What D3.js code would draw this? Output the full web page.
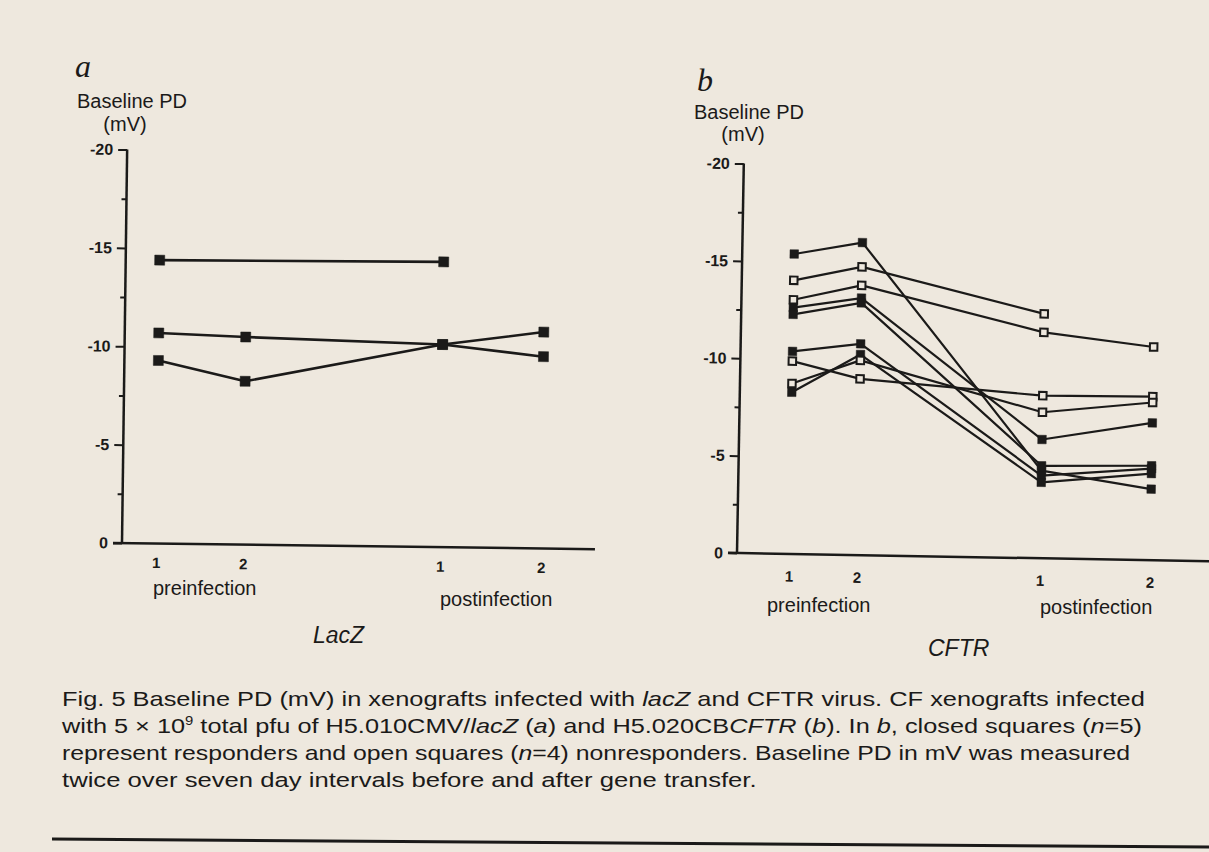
<!DOCTYPE html>
<html><head><meta charset="utf-8">
<script src="https://cdn.jsdelivr.net/npm/d3@7"></script>
<style>html,body{margin:0;padding:0;background:#eee8de;} svg{display:block}</style>
</head><body><svg id="c" width="1209" height="852"></svg>
<script>
// ---------------- DATA ----------------
const timepoints = ["pre1", "pre2", "post1", "post2"];
const xTickLabels = ["1", "2", "1", "2"];
const yTicks = [0, -5, -10, -15, -20];
const yMinorTicks = [-2.5, -7.5, -12.5, -17.5];

// Panel a: lacZ xenografts (closed squares), baseline PD in mV
const lacZ1 = [-14.4, null, -14.5, null];
const lacZ2 = [-10.7, -10.55, -10.3, -9.75];
const lacZ3 = [-9.3, -8.3, -10.3, -11.0];

// Panel b: CFTR xenografts, responders (closed squares)
const cftrR1 = [-15.4, -16.05, -4.5, -3.65];
const cftrR2 = [-12.65, -13.2, -6.1, -7.05];
const cftrR3 = [-12.3, -12.95, -4.75, -4.85];
const cftrR4 = [-10.4, -10.85, -4.25, -4.7];
const cftrR5 = [-8.3, -10.3, -3.9, -4.45];
// nonresponders (open squares)
const cftrN1 = [-14.05, -14.8, -12.55, null];
const cftrN2 = [-13.05, -13.85, -11.6, -10.95];
const cftrN3 = [-9.9, -9.05, -8.35, -8.4];
const cftrN4 = [-8.75, -10.0, -7.5, -8.1];

// ---------------- DRAW ----------------
const INK = "#1b1a19", BG = "#eee8de";
const SANS = "'Liberation Sans', Arial, Helvetica, sans-serif";
const SERIF = "'Liberation Serif', 'Times New Roman', serif";
const svg = d3.select("#c");
svg.append("rect").attr("width", 1209).attr("height", 852).attr("fill", BG);

function panel(cfg) {
  const g = svg.append("g").attr("transform", `translate(${cfg.ox},${cfg.oy}) rotate(${cfg.angle})`);
  const y = d3.scaleLinear().domain([0, -20]).range([0, -cfg.h]);
  const x = d3.scaleOrdinal().domain(timepoints).range(cfg.xr);

  // minor ticks
  g.append("g")
    .call(d3.axisLeft(y).tickValues(yMinorTicks).tickSize(cfg.minor).tickFormat(""))
    .call(s => s.select(".domain").remove())
    .call(s => s.selectAll("line").attr("stroke", INK).attr("stroke-width", 2));
  // major ticks + labels
  g.append("g")
    .call(d3.axisLeft(y).tickValues(yTicks).tickSize(cfg.major).tickPadding(5).tickFormat(d => String(d)))
    .call(s => s.select(".domain").remove())
    .call(s => s.selectAll("line").attr("stroke", INK).attr("stroke-width", 2))
    .call(s => s.selectAll("text").attr("fill", INK).attr("font-family", SANS)
      .attr("font-size", 16).attr("font-weight", "bold"));
  // x tick labels
  g.append("g")
    .call(d3.axisBottom(x).tickSize(0).tickPadding(cfg.xpad).tickFormat((d, i) => xTickLabels[i]))
    .call(s => s.select(".domain").remove())
    .call(s => s.selectAll("text").attr("fill", INK).attr("font-family", SANS)
      .attr("font-size", 15).attr("font-weight", "bold"));
  // axis lines
  g.append("line").attr("x1", 0).attr("x2", 0).attr("y1", 1).attr("y2", y(-20))
    .attr("stroke", INK).attr("stroke-width", 2.5);
  g.append("line").attr("x1", -cfg.major).attr("x2", cfg.axisLen).attr("y1", 0).attr("y2", 0)
    .attr("stroke", INK).attr("stroke-width", 2.5);

  const line = d3.line().x(d => x(d.t)).y(d => y(d.v));
  const prepared = cfg.series.map(s => ({
    open: s.open,
    pts: s.values.map((v, i) => ({ t: timepoints[i], v })).filter(d => d.v != null)
  }));
  prepared.forEach(s => {
    g.append("path").attr("d", line(s.pts)).attr("fill", "none")
      .attr("stroke", INK).attr("stroke-width", cfg.lw).attr("stroke-linejoin", "round");
  });
  [false, true].forEach(open => {
    prepared.filter(s => s.open === open).forEach(s => {
      const m = open ? cfg.openSize : cfg.marker;
      g.selectAll(null).data(s.pts).join("rect")
        .attr("x", d => x(d.t) - m / 2).attr("y", d => y(d.v) - m / 2)
        .attr("width", m).attr("height", m)
        .attr("fill", open ? BG : INK)
        .attr("stroke", INK).attr("stroke-width", open ? 2 : 0.5);
    });
  });
}

panel({
  ox: 122, oy: 543, angle: 0.75, h: 393.5, xr: [34, 121, 318, 419], axisLen: 473,
  major: 9, minor: 5, xpad: 14, lw: 2.6, marker: 10, openSize: 8,
  series: [lacZ1, lacZ2, lacZ3].map(v => ({ values: v, open: false }))
});
panel({
  ox: 737, oy: 553, angle: 1.0, h: 389.5, xr: [52, 120, 303, 413], axisLen: 490,
  major: 9, minor: 5, xpad: 17, lw: 2.2, marker: 8.5, openSize: 7.5,
  series: [cftrR1, cftrR2, cftrR3, cftrR4, cftrR5].map(v => ({ values: v, open: false }))
    .concat([cftrN1, cftrN2, cftrN3, cftrN4].map(v => ({ values: v, open: true })))
});

// ---------------- TEXT ----------------
function txt(s, x, y, size, opts = {}) {
  return svg.append("text").attr("x", x).attr("y", y).text(s)
    .attr("font-family", opts.family || SANS).attr("font-size", size)
    .attr("font-style", opts.italic ? "italic" : "normal")
    .attr("font-weight", opts.weight || "normal")
    .attr("text-anchor", opts.anchor || "start").attr("fill", INK);
}
txt("a", 75, 77, 32, { family: SERIF, italic: true });
txt("b", 697, 91, 32, { family: SERIF, italic: true });
txt("Baseline PD", 132, 108, 20, { anchor: "middle" });
txt("(mV)", 125, 131, 20, { anchor: "middle" });
txt("Baseline PD", 749, 119, 20, { anchor: "middle" });
txt("(mV)", 743, 141, 20, { anchor: "middle" });
txt("preinfection", 153, 595, 20);
txt("postinfection", 440, 606, 20);
txt("LacZ", 313, 643, 23, { italic: true });
txt("preinfection", 767, 612, 20);
txt("postinfection", 1040, 614, 20);
txt("CFTR", 928, 656, 23, { italic: true });

// caption
const captionLines = [
  [["Fig. 5 Baseline PD (mV) in xenografts infected with ", 0], ["lacZ", 1], [" and CFTR virus. CF xenografts infected", 0]],
  [["with 5 × 10", 0], ["9", 2], [" total pfu of H5.010CMV/", 0], ["lacZ", 1], [" (", 0], ["a", 1], [") and H5.020CB", 0], ["CFTR", 1], [" (", 0], ["b", 1], ["). In ", 0], ["b", 1], [", closed squares (", 0], ["n", 1], ["=5)", 0]],
  [["represent responders and open squares (", 0], ["n", 1], ["=4) nonresponders. Baseline PD in mV was measured", 0]],
  [["twice over seven day intervals before and after gene transfer.", 0]]
];
const capY = [706, 733, 760, 787];
const capRight = [1145, 1143, 1131, 757];
const capLeft = 62;
const capNodes = captionLines.map((parts, li) => {
  const t = svg.append("text").attr("font-family", SANS).attr("font-size", 20.5).attr("fill", INK)
    .attr("transform", `translate(${capLeft},${capY[li]})`);
  let prevSup = false;
  parts.forEach(([s, k]) => {
    const ts = t.append("tspan").text(s);
    if (k === 1) ts.attr("font-style", "italic");
    if (k === 2) { ts.attr("font-size", 12).attr("dy", -8); prevSup = true; }
    else if (prevSup) { ts.attr("dy", 8); prevSup = false; }
  });
  return t;
});
capNodes.forEach((t, li) => {
  const w = t.node().getComputedTextLength();
  const s = (capRight[li] - capLeft) / w;
  t.attr("transform", `translate(${capLeft},${capY[li]}) scale(${s},1)`);
});

// bottom rule
svg.append("line").attr("x1", 52).attr("y1", 839).attr("x2", 1209).attr("y2", 847)
  .attr("stroke", INK).attr("stroke-width", 3);
</script>
</body></html>
